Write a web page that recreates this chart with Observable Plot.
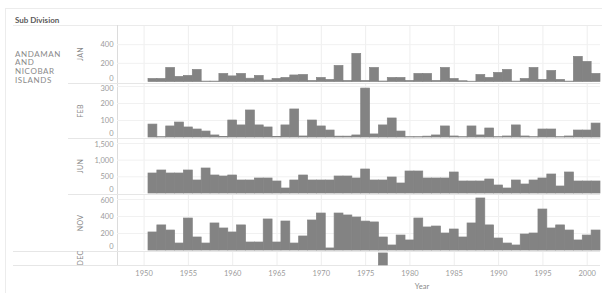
<!DOCTYPE html>
<html><head><meta charset="utf-8">
<script src="https://cdn.jsdelivr.net/npm/d3@7"></script>
<script src="https://cdn.jsdelivr.net/npm/@observablehq/plot@0.6"></script>
<style>
body{margin:0;background:#fff;font-family:Lato,"Open Sans",sans-serif;}
#viz{position:relative;width:602px;height:293px;overflow:hidden;background:#fff;}
.t{position:absolute;white-space:nowrap;}
.ln{position:absolute;background:#e4e4e4;}
.row{position:absolute;left:0;top:0;}
</style></head><body><div id="viz"></div>
<script>
// ---- data ----
const title = "Sub Division";
const subdivisionLines = ["ANDAMAN", "AND", "NICOBAR", "ISLANDS"];
const xTitle = "Year";
const years = [1951,1952,1953,1954,1955,1956,1957,1958,1959,1960,1961,1962,1963,1964,1965,1966,1967,1968,1969,1970,
  1971,1972,1973,1974,1975,1976,1977,1978,1979,1980,1981,1982,1983,1984,1985,1986,1987,1988,1989,1990,
  1991,1992,1993,1994,1995,1996,1997,1998,1999,2000,2001];
const xTickLabels = [1950,1955,1960,1965,1970,1975,1980,1985,1990,1995,2000];
const rowLabels = ["JAN", "FEB", "JUN", "NOV", "DEC"];
const row1Values = [32,32,150,54,65,129,4,4,86,60,86,35,65,15,32,43,70,75,11,43,
  22,172,11,301,11,150,5,43,43,11,86,86,11,150,32,8,3,75,43,97,
  129,4,32,150,22,118,22,4,269,215,86];
const row2Values = [76,2,65,88,59,47,35,12,3,100,71,159,71,59,3,71,165,6,100,65,
  41,5,5,12,288,18,71,112,35,2,2,5,12,65,6,2,65,12,53,2,
  6,71,6,2,47,47,2,6,41,41,82];
const row3Values = [600,690,600,600,690,390,750,540,510,540,390,390,450,450,360,150,390,540,390,390,
  390,510,510,450,720,390,390,480,300,660,660,450,450,450,630,360,360,360,420,240,
  150,390,270,390,450,570,210,630,360,360,360];
const row4Values = [212,295,235,82,376,153,82,318,259,212,295,94,94,365,94,341,82,165,353,435,
  24,435,412,388,340,330,153,59,176,118,376,271,282,200,247,153,318,612,295,141,
  82,59,188,200,482,259,295,235,118,176,235];
const row5Years = [1977];
const row5Values = [1];
const row1Ticks = [0,200,400];
const row2Ticks = [0,100,200,300];
const row3Ticks = [0,500,1000,1500];
const row4Ticks = [0,200,400,600];
const row5Ticks = [];

// ---- layout ----
const W = 602, PL = 117, PR = 600;
const pxPerYear = (PR - 148) / 51;
const xDomain = [1950.5 - (148 - PL) / pxPerYear, 2001.5];
const FONT = "Lato, 'Open Sans', sans-serif";
const TICK = "#9b9b9b";
const BAR = "#838383";
const rows = [
  {label: rowLabels[0], years, values: row1Values, ticks: row1Ticks, top: 26, base: 81.5, max: 595, sepTop: 25, sepBot: 83, topDy: 0},
  {label: rowLabels[1], years, values: row2Values, ticks: row2Ticks, top: 84, base: 137, max: 312, sepTop: 83, sepBot: 138, topDy: 2},
  {label: rowLabels[2], years, values: row3Values, ticks: row3Ticks, top: 139, base: 193, max: 1620, sepTop: 138, sepBot: 194, topDy: 1.5},
  {label: rowLabels[3], years, values: row4Values, ticks: row4Ticks, top: 195, base: 250, max: 647, sepTop: 194, sepBot: 251, topDy: 1.5},
  {label: rowLabels[4], years: row5Years, values: row5Values, ticks: row5Ticks, top: 252, base: 265, max: 1.08, sepTop: 251, sepBot: 265, topDy: 0}
];

const viz = document.getElementById("viz");
function addText(txt, css) { const d = document.createElement("div"); d.className = "t"; d.textContent = txt; Object.assign(d.style, css); viz.appendChild(d); return d; }
function addLine(x, y, w, h, color) { const d = document.createElement("div"); d.className = "ln"; Object.assign(d.style, {left: x+"px", top: y+"px", width: w+"px", height: h+"px"}); if (color) d.style.background = color; viz.appendChild(d); }

// frame and separators
addLine(5, 8, 597, 1, "#ececec");
addLine(5, 8, 1, 285, "#ececec");
addLine(13, 25, 589, 1, "#ebebeb");
addLine(PL, 25, 1, 240, "#dcdcdc");
[83, 138, 194].forEach(y => addLine(68, y, PR - 68, 1, "#e6e6e6"));
[251, 265].forEach(y => addLine(13, y, PR - 13, 1, "#e6e6e6"));

const axisOpts = {tickSize: 0, tickPadding: 4, label: null, tickFormat: d3.format(","), fill: TICK, fontSize: 7.5};

// rows
rows.forEach(r => {
  const data = r.years.map((y, j) => ({year: y, value: r.values[j]}));
  const h = r.base - r.top;
  const marks = [Plot.gridX(xTickLabels, {stroke: "#eeeeee", strokeOpacity: 1})];
  if (r.ticks.length) marks.push(Plot.gridY(r.ticks.slice(1), {stroke: "#f1f1f1", strokeOpacity: 1}));
  marks.push(Plot.rectY(data, {x1: d => d.year - 0.5, x2: d => d.year + 0.5, y: "value", fill: BAR, stroke: BAR, strokeWidth: 0.7}));
  if (r.ticks.length) {
    const n = r.ticks.length;
    marks.push(Plot.axisY([r.ticks[0]], {...axisOpts, dy: -3.5}));
    marks.push(Plot.axisY(r.ticks.slice(1, n - 1), axisOpts));
    marks.push(Plot.axisY([r.ticks[n - 1]], {...axisOpts, dy: r.topDy}));
  }
  const svg = Plot.plot({
    width: W, height: h, marginLeft: PL, marginRight: W - PR, marginTop: 0, marginBottom: 0,
    style: {background: "transparent", overflow: "visible", fontFamily: FONT, fontSize: "7.5px", color: TICK},
    x: {domain: xDomain, axis: null},
    y: {domain: [0, r.max], axis: null},
    marks
  });
  svg.classList.add("row");
  svg.style.top = r.top + "px";
  viz.appendChild(svg);
  addText(r.label, {left: "80px", top: ((r.sepTop + r.sepBot) / 2) + "px", transform: "translate(-50%,-50%) rotate(-90deg)", fontSize: "7px", color: "#8a8a8a", letterSpacing: "0.3px"});
});

// x axis
const xaxis = Plot.plot({
  width: W, height: 24, marginLeft: PL, marginRight: W - PR, marginTop: 1, marginBottom: 23,
  style: {background: "transparent", overflow: "visible", fontFamily: FONT, fontSize: "7.5px", color: TICK},
  x: {domain: xDomain, axis: null},
  marks: [Plot.axisX(xTickLabels, {tickSize: 0, tickPadding: 5.5, label: null, tickFormat: d => String(d), fill: TICK, fontSize: 7.5})]
});
xaxis.classList.add("row");
xaxis.style.top = "264px";
viz.appendChild(xaxis);

// texts
addText(title, {left: "15px", top: "15px", fontSize: "8px", fontWeight: "700", color: "#5a5a5a"});
subdivisionLines.forEach((s, i) => addText(s, {left: "15px", top: (48.5 + i * 8.7) + "px", fontSize: "8px", color: "#8a8a8a", letterSpacing: "0.6px"}));
addText(xTitle, {left: "422px", top: "281.5px", transform: "translateX(-50%)", fontSize: "7.5px", color: "#8a8a8a"});
</script></body></html>
